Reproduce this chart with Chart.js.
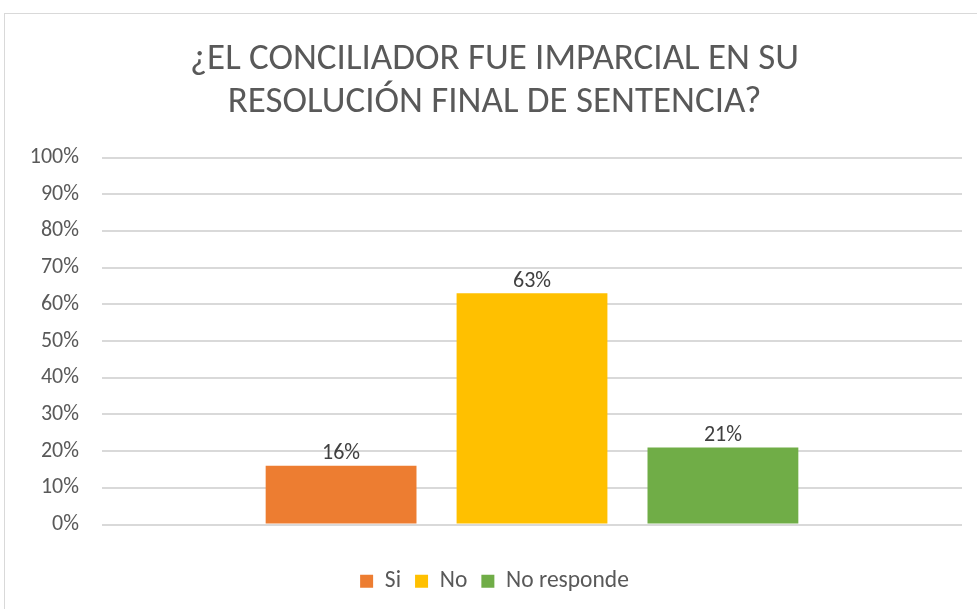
<!DOCTYPE html>
<html>
<head>
<meta charset="utf-8">
<script src="https://cdn.jsdelivr.net/npm/chart.js@4.4.0/dist/chart.umd.min.js"></script>
<style>
  html, body { margin: 0; padding: 0; background: #fff; overflow: hidden; }
  #frame { position: absolute; left: 4px; top: 13px; width: 1000px; height: 700px; border: 1px solid #d9d9d9; }
  #wrap { position: absolute; left: 0; top: 0; width: 977px; height: 609px; }
</style>
</head>
<body>
<div id="frame"></div>
<div id="wrap"><canvas id="chart"></canvas></div>
<script>
var theCategories = [''];
var theSeriesNames = ['Si', 'No', 'No responde'];
var theSeriesValues = [[16], [63], [21]];
var theColors = ['#ED7D31', '#FFC000', '#70AD47'];
var theTickLabels = ['0%', '10%', '20%', '30%', '40%', '50%', '60%', '70%', '80%', '90%', '100%'];

var theFont = "'Carlito', 'Lato', 'Open Sans', sans-serif";

// labels above each bar, like Excel data labels
var barLabels = {
	id: 'barLabels',
	afterDatasetsDraw: function(chart) {
		var ctx = chart.ctx;
		ctx.save();
		ctx.font = '22px ' + theFont;
		ctx.fillStyle = '#404040';
		ctx.textAlign = 'center';
		ctx.textBaseline = 'bottom';
		chart.data.datasets.forEach(function(ds, i) {
			chart.getDatasetMeta(i).data.forEach(function(bar, j) {
				ctx.fillText(ds.data[j] + '%', bar.x, bar.y - 1);
			});
		});
		ctx.restore();
	}
};

var theDatasets = [];
for (var i = 0; i < theSeriesNames.length; i++) {
	theDatasets.push({
		label: theSeriesNames[i],
		data: theSeriesValues[i],
		backgroundColor: theColors[i],
		borderWidth: 0,
		categoryPercentage: 0.666,
		barPercentage: 0.79
	});
}

new Chart(document.getElementById('chart'), {
	type: 'bar',
	data: { labels: theCategories, datasets: theDatasets },
	plugins: [barLabels],
	options: {
		responsive: true,
		maintainAspectRatio: false,
		animation: false,
		layout: { padding: { top: 38, right: 15, bottom: 6, left: 27 } },
		plugins: {
			tooltip: { enabled: false },
			title: {
				display: true,
				text: ['¿EL CONCILIADOR FUE IMPARCIAL EN SU', 'RESOLUCIÓN FINAL DE SENTENCIA?'],
				color: '#595959',
				font: { family: theFont, size: 37, weight: 'normal', lineHeight: 1.17 },
				padding: { top: 0, bottom: 33 }
			},
			legend: {
				position: 'bottom',
				labels: {
					color: '#595959',
					font: { family: theFont, size: 23.5 },
					boxWidth: 13,
					boxHeight: 13,
					padding: 14
				}
			}
		},
		scales: {
			x: {
				grid: { display: false },
				border: { display: false },
				ticks: { display: false },
				afterFit: function(scale) { scale.height = 31; }
			},
			y: {
				min: 0,
				max: 100,
				grid: { color: '#d9d9d9', lineWidth: 2, drawTicks: false },
				border: { display: false },
				ticks: {
					stepSize: 10,
					padding: 23,
					color: '#595959',
					font: { family: theFont, size: 22 },
					callback: function(v, idx) { return theTickLabels[idx]; }
				},
				afterFit: function(scale) { scale.width = 75; }
			}
		}
	}
});
</script>
</body>
</html>
